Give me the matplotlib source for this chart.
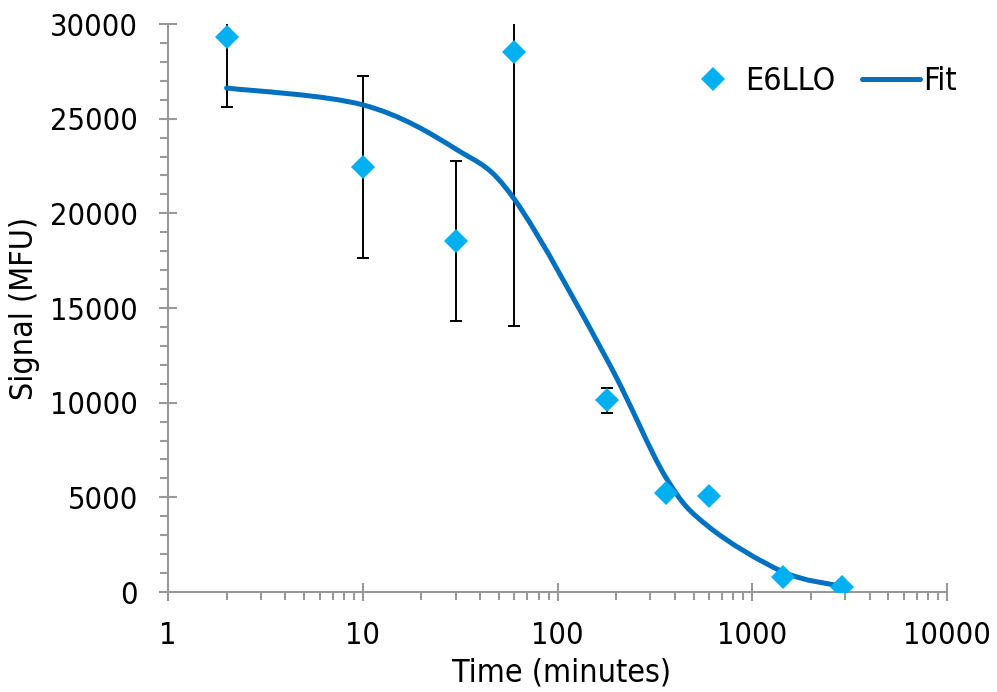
import numpy as np
import matplotlib
matplotlib.use("Agg")
import matplotlib.pyplot as plt
from matplotlib.path import Path
from matplotlib.patches import PathPatch
from matplotlib.lines import Line2D
from matplotlib.ticker import LogLocator, MultipleLocator, NullFormatter

# data
time_min = [2, 10, 30, 60, 180, 360, 600, 1440, 2880]
signal = [29300, 22450, 18540, 28520, 10140, 5230, 5070, 790, 280]
err = [3700, 4800, 4250, 14480, 660, 0, 0, 0, 0]
fit_x = [2, 10, 30, 60, 180, 360, 600, 1440, 2880]
fit_y = [26620, 25730, 23400, 20750, 12250, 6050, 3430, 1060, 300]
x_ticks = [1, 10, 100, 1000, 10000]
x_ticklabels = ['1', '10', '100', '1000', '10000']

plt.rcParams['font.family'] = ['DejaVu Sans']
plt.rcParams['font.stretch'] = 'condensed'

GRAY = '#999999'
W, H = 997, 692
fig = plt.figure(figsize=(W/100, H/100), dpi=100)
ax = fig.add_axes([168/W, 100/H, (947-168)/W, (592-24)/H])

ax.set_xscale('log')
ax.set_xlim(1, 10000)
ax.set_ylim(0, 30000)

# smooth fit line (Excel-style Bezier in log-x space)
u = np.log10(fit_x)
v = np.array(fit_y, dtype=float)
n = len(u)
verts = [(fit_x[0], fit_y[0])]
codes = [Path.MOVETO]
for i in range(n - 1):
    p0 = (u[i-1], v[i-1]) if i > 0 else (u[i], v[i])
    p1 = (u[i], v[i])
    p2 = (u[i+1], v[i+1])
    p3 = (u[i+2], v[i+2]) if i + 2 < n else (u[i+1], v[i+1])
    c1 = (p1[0] + (p2[0] - p0[0]) / 6, p1[1] + (p2[1] - p0[1]) / 6)
    c2 = (p2[0] - (p3[0] - p1[0]) / 6, p2[1] - (p3[1] - p1[1]) / 6)
    verts += [(10**c1[0], c1[1]), (10**c2[0], c2[1]), (10**p2[0], p2[1])]
    codes += [Path.CURVE4] * 3
patch = PathPatch(Path(verts, codes), facecolor='none', edgecolor='#0070C0',
                  lw=3.6, capstyle='round', joinstyle='round', zorder=3)
ax.add_patch(patch)

# error bars
ax.errorbar(time_min, signal, yerr=err, fmt='none', ecolor='black',
            elinewidth=1.4, capsize=4.6, capthick=1.4, zorder=2)
ax.plot(time_min, signal, linestyle='none', marker='D', markersize=12,
        color='#00B0F0', markeredgewidth=0, zorder=4)

# axes styling
for s in ['top', 'right']:
    ax.spines[s].set_visible(False)
for s in ['left', 'bottom']:
    ax.spines[s].set_color(GRAY)
    ax.spines[s].set_linewidth(1.5)

ax.yaxis.set_major_locator(MultipleLocator(5000))
ax.yaxis.set_minor_locator(MultipleLocator(1000))
ax.xaxis.set_minor_locator(LogLocator(base=10, subs=np.arange(2, 10), numticks=20))
ax.xaxis.set_minor_formatter(NullFormatter())
ax.set_xticks(x_ticks)
ax.set_xticklabels(x_ticklabels)

ax.tick_params(axis='both', which='both', colors=GRAY, width=1.5,
               labelcolor='black', labelsize=22)
ax.tick_params(axis='y', which='major', direction='inout', length=13.5, pad=15)
ax.tick_params(axis='y', which='minor', direction='out', length=5.5)
ax.tick_params(axis='x', which='major', direction='inout', length=13.5, pad=14)
ax.tick_params(axis='x', which='minor', direction='out', length=5.5)

fig.text(562/W, (H-682)/H, 'Time (minutes)', fontsize=23, ha='center', va='baseline')
fig.text(25/W, 1-308/H, 'Signal (MFU)', fontsize=23, ha='center', va='center',
         rotation=90)

handles = [Line2D([], [], linestyle='none', marker='D', markersize=12,
                  color='#00B0F0', markeredgewidth=0),
           Line2D([], [], color='#0070C0', lw=3.6, solid_capstyle='round')]
fig.legend(handles, ['E6LLO', 'Fit'], loc='center left',
           bbox_to_anchor=(684/W, 1-82/H), borderpad=0, borderaxespad=0,
           ncol=2, frameon=False, fontsize=23, handlelength=1.8,
           handletextpad=0.1, columnspacing=0.85)

fig.savefig('out.png', dpi=100)
